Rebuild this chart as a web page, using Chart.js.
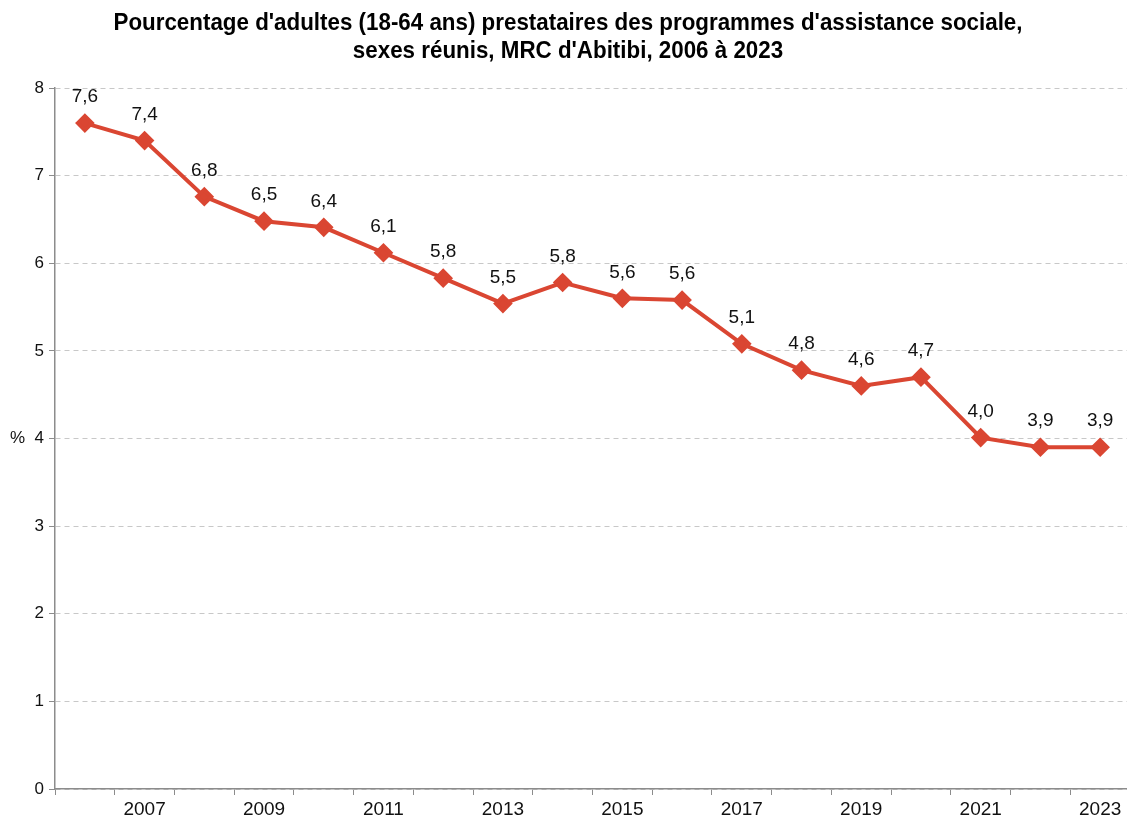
<!DOCTYPE html>
<html>
<head>
<meta charset="utf-8">
<script src="https://cdn.jsdelivr.net/npm/chart.js@4/dist/chart.umd.min.js"></script>
<style>
  html, body { margin: 0; padding: 0; background: #fff; overflow: hidden; }
  /* a bit wider than the window: the source plot runs right up to the edge */
  #wrap { width: 1141px; height: 825px; }
</style>
</head>
<body>
<div id="wrap"><canvas id="chart"></canvas></div>
<script>
// Years on the category axis, only odd years get a label (like the source).
const years = ['2006', '2007', '2008', '2009', '2010', '2011', '2012', '2013', '2014',
    '2015', '2016', '2017', '2018', '2019', '2020', '2021', '2022', '2023'];
// % of adults (18-64) receiving social assistance, MRC d'Abitibi
const pctValues = [7.6, 7.4, 6.76, 6.48, 6.41, 6.12, 5.83, 5.54, 5.78,
    5.6, 5.58, 5.08, 4.78, 4.6, 4.7, 4.01, 3.9, 3.9];
const yTicks = [0, 1, 2, 3, 4, 5, 6, 7, 8];
const titleLines = ["Pourcentage d'adultes (18-64 ans) prestataires des programmes d'assistance sociale,",
    "sexes réunis, MRC d'Abitibi, 2006 à 2023"];

const RED = '#DA4632';
const FONT = "'Liberation Sans', Arial, sans-serif";

// Title drawn by hand: the source uses a narrow bold face that isn't installed,
// so squeeze a regular bold face horizontally to the same width.
const narrowTitle = {
    id: 'narrowTitle',
    afterDraw(chart) {
        const ctx = chart.ctx;
        const cx = 568; // centre of the visible window, not of the wider canvas
        ctx.save();
        ctx.font = `bold 24px ${FONT}`;
        ctx.fillStyle = '#000';
        ctx.textAlign = 'center';
        ctx.textBaseline = 'middle';
        const squeeze = 909 / ctx.measureText(titleLines[0]).width;
        titleLines.forEach((line, i) => {
            ctx.save();
            ctx.translate(cx, 23 + i * 28);
            ctx.scale(squeeze, 1);
            ctx.fillText(line, 0, 0);
            ctx.restore();
        });
        ctx.restore();
    },
};

// Value labels above each point, French decimal comma.
const pointLabels = {
    id: 'pointLabels',
    afterDatasetsDraw(chart) {
        const ctx = chart.ctx;
        const meta = chart.getDatasetMeta(0);
        ctx.save();
        ctx.font = `19px ${FONT}`;
        ctx.fillStyle = '#111';
        ctx.textAlign = 'center';
        ctx.textBaseline = 'middle';
        meta.data.forEach((pt, i) => {
            const txt = pctValues[i].toFixed(1).replace('.', ',');
            ctx.fillText(txt, pt.x, pt.y - 26);
        });
        ctx.restore();
    },
};

new Chart(document.getElementById('chart'), {
    type: 'line',
    data: {
        labels: years,
        datasets: [{
            data: pctValues,
            borderColor: RED,
            backgroundColor: RED,
            borderWidth: 4,
            pointStyle: 'rectRot',
            pointRadius: 7,
            pointHoverRadius: 7,
            tension: 0,
        }],
    },
    options: {
        responsive: true,
        maintainAspectRatio: false,
        animation: false,
        devicePixelRatio: 1,
        layout: { padding: { left: 0, right: 0, top: 88, bottom: 0 } },
        plugins: {
            legend: { display: false },
            tooltip: { enabled: false },
            title: { display: false },
        },
        scales: {
            x: {
                offset: true,
                grid: { offset: true, drawOnChartArea: false, color: '#8c8c8c', tickLength: 6 },
                border: { color: '#8c8c8c', width: 1.5 },
                ticks: {
                    autoSkip: false,
                    maxRotation: 0,
                    padding: 3,
                    color: '#111',
                    font: { family: FONT, size: 19 },
                    callback(v, i) { return i % 2 === 1 ? years[i] : ''; },
                },
                afterFit(scale) { scale.height = 36; },
            },
            y: {
                min: 0,
                max: 8,
                afterBuildTicks(scale) { scale.ticks = yTicks.map(v => ({ value: v })); },
                grid: { color: '#c8c8c8', tickColor: '#8c8c8c', tickLength: 6, tickBorderDash: [] },
                border: { color: '#8c8c8c', width: 1.5, dash: [5, 4] },
                ticks: {
                    padding: 5,
                    color: '#111',
                    font: { family: FONT, size: 17 },
                    callback(v) { return v === 4 ? '%  4' : String(v); },
                },
                afterFit(scale) { scale.width = 55; },
            },
        },
    },
    plugins: [narrowTitle, pointLabels],
});
</script>
</body>
</html>
